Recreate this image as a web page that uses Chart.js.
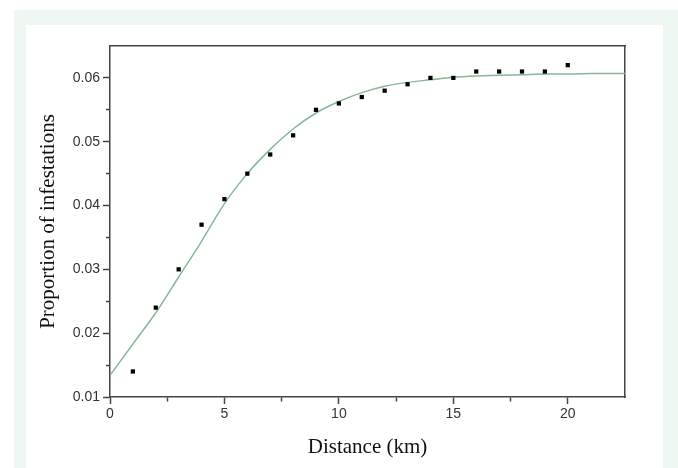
<!DOCTYPE html>
<html>
<head>
<meta charset="utf-8">
<script src="https://cdn.jsdelivr.net/npm/chart.js@4.4.0/dist/chart.umd.min.js"></script>
<style>
  body { margin: 0; background: #fff; }
  #mint { position: absolute; left: 14px; top: 10px; right: 0; bottom: 0; background: #eef7f2; }
  #panel { position: absolute; left: 26px; top: 25px; width: 637px; bottom: 0; background: #fff; }
  #chart { position: absolute; left: 0; top: 0; }
</style>
</head>
<body>
<div id="mint"></div>
<div id="panel"></div>
<canvas id="chart" width="678" height="468"></canvas>
<script>
'use strict';

// observed proportions at each distance
const distances = [1, 2, 3, 4, 5, 6, 7, 8, 9, 10, 11, 12, 13, 14, 15, 16, 17, 18, 19, 20];
const proportions = [0.014, 0.024, 0.030, 0.037, 0.041, 0.045, 0.048, 0.051, 0.055, 0.056,
  0.057, 0.058, 0.059, 0.060, 0.060, 0.061, 0.061, 0.061, 0.061, 0.062];

// fitted curve
const fitDistances = [0, 1, 2, 3, 4, 5, 6, 7, 8, 9, 10, 11, 12, 13, 14, 15, 16, 17, 18, 19, 20, 21, 22.5];
const fitValues = [0.0134, 0.0183, 0.0232, 0.0288, 0.0344, 0.0403, 0.0450, 0.0488, 0.0520, 0.0545,
  0.0563, 0.0577, 0.0587, 0.0593, 0.0597, 0.0601, 0.0603, 0.0604, 0.0605, 0.0606, 0.0606, 0.0607, 0.0607];

const xTickLabels = [0, 5, 10, 15, 20];
const yTickLabels = [0.01, 0.02, 0.03, 0.04, 0.05, 0.06];

let canvasElem = document.getElementById('chart').getContext('2d');

const axisColor = '#444';
const tickFont = { family: 'Liberation Sans', size: 14 };
const titleFont = { family: 'Liberation Serif', size: 21 };

function isLabelled(list, v) {
  return list.some(t => Math.abs(t - v) < 1e-6);
}

let scatterPoints = distances.map((d, i) => ({ x: d, y: proportions[i] }));
let fitPoints = fitDistances.map((d, i) => ({ x: d, y: fitValues[i] }));

let chartOptionsObject = {
  type: 'scatter',
  data: {
    datasets: [
      {
        data: scatterPoints,
        pointStyle: 'rect',
        pointRadius: 3,
        pointBorderWidth: 0,
        backgroundColor: '#000',
        borderColor: '#000'
      },
      {
        data: fitPoints,
        showLine: true,
        pointRadius: 0,
        borderColor: '#86b796',
        borderWidth: 1.5,
        cubicInterpolationMode: 'monotone'
      }
    ]
  },
  options: {
    responsive: false,
    animation: false,
    layout: { padding: { left: 0, top: 46, right: 53, bottom: 0 } },
    plugins: { legend: { display: false }, tooltip: { enabled: false } },
    scales: {
      x: {
        type: 'linear',
        min: 0,
        max: 22.5,
        afterFit: s => { s.height = 71; },
        ticks: {
          stepSize: 2.5,
          autoSkip: false,
          maxRotation: 0,
          padding: 2,
          color: '#333',
          font: tickFont,
          callback: v => isLabelled(xTickLabels, v) ? String(v) : ''
        },
        grid: {
          drawOnChartArea: false,
          tickLength: 7,
          tickWidth: 1.5,
          tickColor: c => (c.tick && c.tick.value > 22.4) ? 'rgba(0,0,0,0)' : axisColor,
          tickBorderDash: c => (c.tick && !isLabelled(xTickLabels, c.tick.value)) ? [4, 10] : []
        },
        border: { color: axisColor, width: 1.5 },
        title: {
          display: true,
          text: 'Distance (km)',
          color: '#111',
          font: titleFont,
          padding: { top: 0, bottom: 8 }
        }
      },
      y: {
        type: 'linear',
        min: 0.01,
        max: 0.065,
        afterFit: s => { s.width = 110; },
        ticks: {
          stepSize: 0.005,
          autoSkip: false,
          padding: 3,
          color: '#333',
          font: tickFont,
          callback: v => isLabelled(yTickLabels, v) ? v.toFixed(2) : ''
        },
        grid: {
          drawOnChartArea: false,
          tickLength: 7,
          tickWidth: 1.5,
          tickColor: c => (c.tick && c.tick.value > 0.0649) ? 'rgba(0,0,0,0)' : axisColor,
          tickBorderDash: c => (c.tick && !isLabelled(yTickLabels, c.tick.value)) ? [0, 3, 4, 10] : []
        },
        border: { color: axisColor, width: 1.5 },
        title: {
          display: true,
          text: 'Proportion of infestations',
          color: '#111',
          font: titleFont,
          padding: { top: 36, bottom: 0 }
        }
      },
      x2: {
        type: 'linear',
        position: 'top',
        afterFit: s => { s.height = 0; },
        ticks: { display: false },
        grid: { drawOnChartArea: false, drawTicks: false },
        border: { color: axisColor, width: 1.5 }
      },
      y2: {
        type: 'linear',
        position: 'right',
        afterFit: s => { s.width = 0; },
        ticks: { display: false },
        grid: { drawOnChartArea: false, drawTicks: false },
        border: { color: axisColor, width: 1.5 }
      }
    }
  }
};

let myChart = new Chart(canvasElem, chartOptionsObject);
</script>
</body>
</html>
